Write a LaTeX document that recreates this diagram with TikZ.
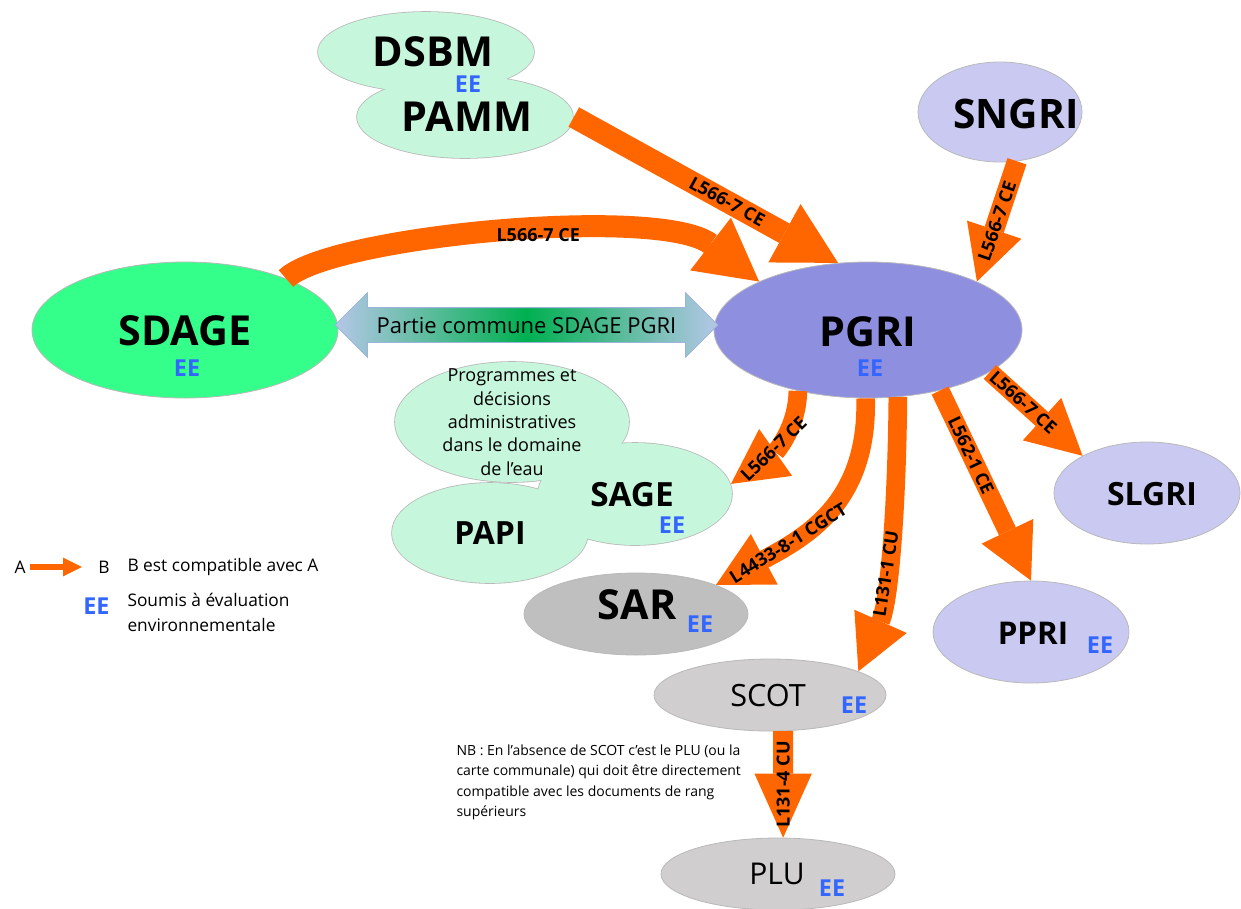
\documentclass[tikz,border=0pt]{standalone}
\usepackage{fontspec}
\setmainfont{Open Sans}
\usetikzlibrary{shapes.geometric,shapes.arrows,arrows.meta}

\definecolor{mint}{HTML}{C6F6DC}
\definecolor{vertSdage}{HTML}{33FF8A}
\definecolor{violetPgri}{HTML}{8F8FE0}
\definecolor{lavande}{HTML}{C9C9F1}
\definecolor{grisSar}{HTML}{BFBFBF}
\definecolor{grisClair}{HTML}{D0CECE}
\definecolor{orangeFl}{HTML}{FF6600}
\definecolor{bleuEE}{HTML}{3366FF}
\definecolor{bleuFl}{HTML}{B4C7E7}
\definecolor{vertFl}{HTML}{00B050}
\definecolor{bordFl}{HTML}{9DB3D9}

\newcommand{\fsz}[1]{\fontsize{#1}{#1}\selectfont}

\tikzset{every picture/.style={line width=0.75pt},
  blob/.style={ellipse, draw=gray!55, line width=0.6pt, inner sep=0pt},
  titre/.style={inner sep=0pt, font=\fsz{31}\bfseries},
  ee/.style={inner sep=0pt, text=bleuEE, font=\fsz{17.5}\bfseries},
  loi/.style={inner sep=0pt, font=\fsz{13.5}\bfseries},
  txt/.style={inner sep=0pt, font=\fsz{13}},
  fat/.style={draw=orangeFl, line width=14pt, -{Triangle[length=41pt,width=43pt,line width=0pt]}},
  fatbig/.style={draw=orangeFl, line width=16.5pt, -{Triangle[length=46pt,width=50pt,line width=0pt]}}
}

\begin{document}
\begin{tikzpicture}[x=0.75pt,y=0.75pt,yscale=-1,xscale=1]
\useasboundingbox (0,0) rectangle (1241,908);

%Shape: Ellipse (clouds: outlines first, then fills on top)
\node[blob, line width=1.2pt, fill=mint, minimum width=162pt, minimum height=60pt] (dsbm) at (426,52) {};
\node[blob, line width=1.2pt, fill=mint, minimum width=162pt, minimum height=61.5pt] (pamm) at (465,117) {};
\node[blob, line width=1.2pt, fill=mint, minimum width=175.5pt, minimum height=90pt] (prog) at (512,422) {};
\node[blob, line width=1.2pt, fill=mint, minimum width=145.5pt, minimum height=76.5pt] (sage) at (635,494) {};
\node[blob, line width=1.2pt, fill=mint, minimum width=147pt, minimum height=75pt] (papi) at (490,533) {};
\fill[mint] (dsbm.center) ellipse [x radius=108, y radius=40];
\fill[mint] (pamm.center) ellipse [x radius=108, y radius=41];
\fill[mint] (prog.center) ellipse [x radius=117, y radius=60];
\fill[mint] (sage.center) ellipse [x radius=97, y radius=51];
\fill[mint] (papi.center) ellipse [x radius=98, y radius=50];

%Shape: Ellipse
\node[blob, fill=lavande, minimum width=123pt, minimum height=75pt] (sngri) at (1000,112) {};
\node[blob, fill=vertSdage, minimum width=229.5pt, minimum height=102pt] (sdage) at (185,330) {};
\node[blob, fill=violetPgri, minimum width=231pt, minimum height=102pt] (pgri) at (868,330) {};
\node[blob, fill=lavande, minimum width=139.5pt, minimum height=76.5pt] (slgri) at (1147,493) {};
\node[blob, fill=lavande, minimum width=147pt, minimum height=76.5pt] (ppri) at (1031,632) {};
\node[blob, fill=grisSar, minimum width=168pt, minimum height=61.5pt] (sar) at (636,614) {};
\node[blob, fill=grisClair, minimum width=174pt, minimum height=54pt] (scot) at (770,695) {};
\node[blob, fill=grisClair, minimum width=175.5pt, minimum height=54pt] (plu) at (778,874) {};

%Arrows
\draw[fatbig] (pamm.east) -- (pgri.114) node[loi, rotate=-29, pos=0.58] (loiPamm) {L566-7 CE};
\draw[fatbig] (sdage.27) .. controls (330,236) and (660,205) .. (pgri.156) node[loi, pos=0.56] (loiSdage) {L566-7 CE};
\draw[fat, line width=15pt] (sngri.-71) -- (pgri.24) node[loi, rotate=71, pos=0.5] (loiSngri) {L566-7 CE};
\draw[fat] (pgri.221) .. controls (797,432) and (772,455) .. (sage.6) node[loi, rotate=44, pos=0.58] (loiSage) {L566-7 CE};
\draw[fat] (pgri.268) .. controls (868,500) and (810,535) .. (sar.20) node[loi, rotate=32, pos=0.71] (loiSar) {L4433-8-1 CGCT};
\draw[fat] (pgri.294) .. controls (897,500) and (890,600) .. (scot.15) node[loi, rotate=81, pos=0.6] (loiScot) {L131-1 CU};
\draw[fat] (pgri.320) -- (ppri.north) node[loi, rotate=-64.5, pos=0.34] (loiPpri) {L562-1 CE};
\draw[fat] (pgri.341) -- (slgri.150) node[loi, rotate=-42, pos=0.36] (loiSlgri) {L566-7 CE};
\draw[fat, line width=15pt, -{Triangle[length=48pt,width=43pt,line width=0pt]}] (scot.-70) -- (plu.82) node[loi, rotate=90, pos=0.5] (loiPlu) {L131-4 CU};

%Double arrow
\node[double arrow, draw=bordFl, line width=0.6pt, double arrow head extend=11.25pt, minimum height=287pt, inner xsep=0pt, inner ysep=6.5pt, text height=12.5pt, text depth=0pt, font=\fsz{16.5}, left color=bleuFl, right color=bleuFl, middle color=vertFl] (commune) at (526.5,325) {Partie commune SDAGE PGRI};

% Text Node
\node[titre] (dsbmT) at (433,52) {DSBM};
\node[ee] (dsbmEE) at (468,84) {EE};
\node[titre] (pammT) at (467,117) {PAMM};
\node[titre, font=\fsz{30.5}\bfseries] (sngriT) at (1016,114) {SNGRI};
\node[titre] (sdageT) at (185,331) {SDAGE};
\node[ee] (sdageEE) at (187,368) {EE};
\node[titre] (pgriT) at (868,332) {PGRI};
\node[ee] (pgriEE) at (870,368) {EE};
\node[inner sep=0pt, align=center, font=\fontsize{13.5}{17.5}\selectfont] (progT) at (512,422) {Programmes et\\décisions\\administratives\\dans le domaine\\de l’eau};
\node[titre, font=\fsz{25}\bfseries] (sageT) at (632,495) {SAGE};
\node[ee] (sageEE) at (672,525) {EE};
\node[titre, font=\fsz{24}\bfseries] (papiT) at (490,533) {PAPI};
\node[titre, font=\fsz{24}\bfseries] (slgriT) at (1152,494) {SLGRI};
\node[titre, font=\fsz{23.5}\bfseries] (ppriT) at (1033,633) {PPRI};
\node[ee] (ppriEE) at (1100,645) {EE};
\node[titre] (sarT) at (637,605) {SAR};
\node[ee] (sarEE) at (700,624) {EE};
\node[inner sep=0pt, font=\fsz{23}] (scotT) at (768,696) {SCOT};
\node[ee] (scotEE) at (854,705) {EE};
\node[inner sep=0pt, font=\fsz{22.5}] (pluT) at (777,874) {PLU};
\node[ee] (pluEE) at (832,888) {EE};

% Text Node
\node[inner sep=0pt, anchor=north west, align=left, font=\fontsize{10.5}{15.4}\selectfont] (nb) at (456,744) {NB : En l’absence de SCOT c’est le PLU (ou la\\carte communale) qui doit être directement\\compatible avec les documents de rang\\supérieurs};

%Legend
\node[txt] (legA) at (20,567) {A};
\node[txt] (legB) at (104,567) {B};
\node[txt, anchor=west] (legTxt) at (127,567) {B est compatible avec A};
\draw[draw=orangeFl, line width=5pt, -{Triangle[length=14pt,width=14pt,line width=0pt]}, shorten <=3pt, shorten >=12pt] (legA) -- (legB);
\node[ee] (legEE) at (96.5,606.5) {EE};
\node[txt, anchor=west, align=left, font=\fontsize{13}{18.75}\selectfont] (legSoumis) at (127,612) {Soumis à évaluation\\environnementale};

\end{tikzpicture}
\end{document}
